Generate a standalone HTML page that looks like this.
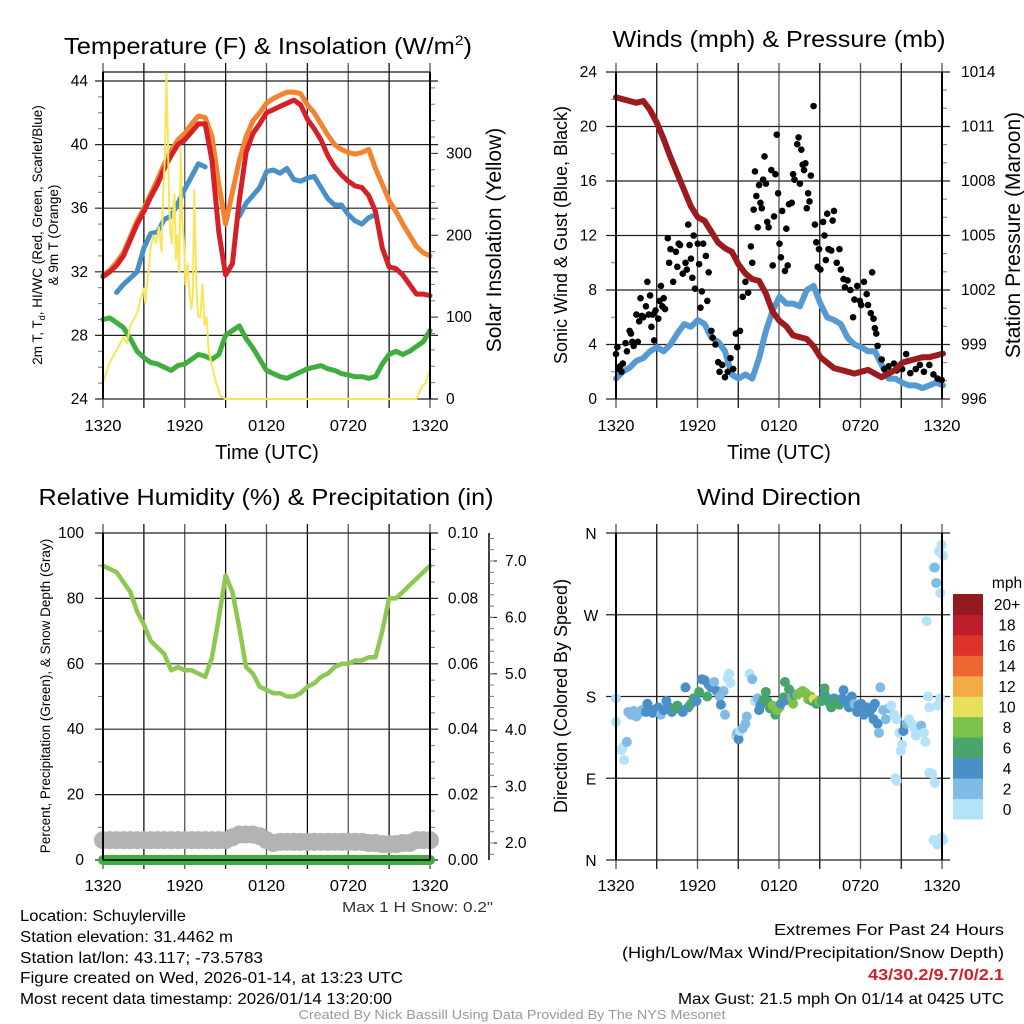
<!DOCTYPE html>
<html><head><meta charset="utf-8"><style>
html,body{margin:0;padding:0;background:#fff;}
svg{display:block;font-family:"Liberation Sans",sans-serif;}
</style></head><body>
<svg id="fig" width="1024" height="1024" viewBox="0 0 1024 1024">
<text x="268" y="54" font-size="23" text-anchor="middle" textLength="408" lengthAdjust="spacingAndGlyphs">Temperature (F) &amp; Insolation (W/m<tspan font-size="14" dy="-9">2</tspan><tspan dy="9">)</tspan></text>
<text x="779" y="47" font-size="23" text-anchor="middle" textLength="333" lengthAdjust="spacingAndGlyphs">Winds (mph) &amp; Pressure (mb)</text>
<text x="266" y="505" font-size="23" text-anchor="middle" textLength="455" lengthAdjust="spacingAndGlyphs">Relative Humidity (%) &amp; Precipitation (in)</text>
<text x="779" y="505" font-size="23" text-anchor="middle" textLength="164" lengthAdjust="spacingAndGlyphs">Wind Direction</text>
<g id="g"></g>
<g font-size="15.5">
<text x="20" y="921" textLength="166" lengthAdjust="spacingAndGlyphs">Location: Schuylerville</text>
<text x="20" y="942" textLength="213" lengthAdjust="spacingAndGlyphs">Station elevation: 31.4462 m</text>
<text x="20" y="963" textLength="243" lengthAdjust="spacingAndGlyphs">Station lat/lon: 43.117; -73.5783</text>
<text x="20" y="983" textLength="383" lengthAdjust="spacingAndGlyphs">Figure created on Wed, 2026-01-14, at 13:23 UTC</text>
<text x="20" y="1004" textLength="372" lengthAdjust="spacingAndGlyphs">Most recent data timestamp: 2026/01/14 13:20:00</text>
</g>
<g font-size="15.5" text-anchor="end">
<text x="1004" y="935" textLength="230" lengthAdjust="spacingAndGlyphs">Extremes For Past 24 Hours</text>
<text x="1004" y="958" textLength="382" lengthAdjust="spacingAndGlyphs">(High/Low/Max Wind/Precipitation/Snow Depth)</text>
<text x="1004" y="980" fill="#d0202a" font-weight="bold" textLength="136" lengthAdjust="spacingAndGlyphs">43/30.2/9.7/0/2.1</text>
<text x="1004" y="1004" textLength="326" lengthAdjust="spacingAndGlyphs">Max Gust: 21.5 mph On 01/14 at 0425 UTC</text>
</g>
<text x="493" y="912" font-size="15" text-anchor="end" fill="#333" textLength="151" lengthAdjust="spacingAndGlyphs">Max 1 H Snow: 0.2"</text>
<text x="512" y="1019" font-size="12.5" text-anchor="middle" fill="#999" textLength="427" lengthAdjust="spacingAndGlyphs">Created By Nick Bassill Using Data Provided By The NYS Mesonet</text>
</svg>
<script>
// ---- data (half-hour steps, hours since 1320 UTC) ----
const hours = [0,0.5,1,1.5,2,2.5,3,3.5,4,4.5,5,5.5,6,6.5,7,7.5,8,8.5,9,9.5,10,10.5,11,11.5,12,12.5,13,13.5,14,14.5,15,15.5,16,16.5,17,17.5,18,18.5,19,19.5,20,20.5,21,21.5,22,22.5,23,23.5,24];
const timeTicks = ["1320","1920","0120","0720","1320"];
const temp2m = [31.7,32.0,32.4,33.0,34.0,35.0,35.8,36.7,37.5,38.5,39.3,40.0,40.3,40.8,41.3,41.3,39.0,34.5,31.8,32.5,36.5,39.5,40.7,41.3,42.0,42.2,42.4,42.6,42.8,42.5,41.6,41.0,40.3,39.3,38.6,38.1,37.7,37.4,37.3,36.8,35.8,33.5,32.3,32.2,31.8,31.2,30.6,30.6,30.5];
const temp9m = [31.8,32.1,32.6,33.2,34.2,35.2,36.0,36.9,37.8,38.8,39.6,40.3,40.7,41.3,41.8,41.7,40.5,37.5,35.0,37.0,39.0,40.5,41.5,42.0,42.6,42.9,43.1,43.3,43.3,43.2,42.5,42.0,41.3,40.6,40.0,39.7,39.5,39.4,39.5,39.7,38.5,37.5,36.5,35.8,35.0,34.3,33.6,33.2,33.0];
const windChill = [null,null,30.7,31.2,31.6,32.0,33.5,34.4,34.5,35.3,35.5,36.3,37.2,38.0,38.8,38.6,null,null,30.6,null,35.5,36.3,36.8,37.3,38.3,38.4,38.2,38.5,37.8,37.7,37.9,38.0,37.3,36.6,36.2,36.2,35.6,35.2,35.0,35.4,35.6,null,null,null,null,null,null,null,null];
const dewpoint = [29.0,29.1,28.8,28.5,27.8,27.0,26.6,26.3,26.2,26.0,25.8,26.1,26.2,26.5,26.8,26.7,26.5,26.8,28.0,28.3,28.6,27.8,27.2,26.5,25.8,25.6,25.4,25.3,25.5,25.7,25.9,26.0,26.1,25.9,25.8,25.6,25.5,25.4,25.4,25.3,25.4,26.2,26.8,27.0,26.8,27.0,27.3,27.6,28.3];
const insoHours = [0,0.5,1,1.5,1.75,2,2.5,2.8,3,3.1,3.3,3.5,3.7,3.9,4.1,4.3,4.4,4.55,4.65,4.75,4.85,4.95,5.05,5.15,5.25,5.35,5.45,5.6,5.7,5.8,5.95,6.05,6.2,6.35,6.5,6.6,6.7,6.8,6.9,7,7.15,7.3,7.45,7.6,7.75,8,8.3,8.6,9,23,23.4,23.7,24];
const insolation = [20,45,60,75,68,90,105,125,135,117,150,185,200,190,210,180,240,300,398,330,240,200,190,230,250,170,200,155,305,220,190,140,165,130,110,130,255,180,120,100,100,140,90,100,60,40,20,4,0,0,15,20,35];
const windSpeed = [1.5,2.0,2.3,2.8,3.0,3.5,3.8,3.5,4.0,4.8,5.5,5.3,5.8,5.5,4.5,4.2,3.5,1.8,1.5,1.8,1.5,3.0,5.0,6.5,7.5,7.0,7.0,6.8,8.0,8.3,7.0,6.0,5.8,5.5,4.5,4.0,3.8,3.5,3.5,2.5,1.5,1.5,1.2,1.0,1.0,0.8,1.0,1.2,1.0];
const pressure = [1012.6,1012.5,1012.4,1012.3,1012.4,1011.9,1011.2,1010.3,1009.3,1008.4,1007.5,1006.6,1006.0,1005.8,1005.2,1004.6,1004.3,1004.1,1003.4,1002.9,1002.6,1002.5,1001.8,1000.8,1000.3,1000.0,999.5,999.4,999.3,998.9,998.3,998.0,997.7,997.6,997.5,997.4,997.5,997.6,997.4,997.2,997.4,997.6,998.0,998.1,998.2,998.3,998.3,998.4,998.5];
const gustHours = [0,0.1,0.2,0.3,0.4,0.5,0.7,0.8,1.0,1.1,1.2,1.3,1.5,1.6,1.7,1.8,1.9,2.0,2.2,2.3,2.4,2.5,2.6,2.7,2.8,2.9,3.1,3.2,3.3,3.4,3.5,3.6,3.8,3.9,4.0,4.2,4.4,4.5,4.6,4.7,4.9,5.1,5.2,5.3,5.4,5.5,5.6,5.7,5.8,6.0,6.1,6.2,6.3,6.4,6.6,6.7,6.8,7.0,7.1,7.3,7.5,7.6,7.8,8.0,8.2,8.4,8.6,8.8,8.9,9.1,9.3,9.5,9.7,9.9,10.0,10.1,10.2,10.3,10.4,10.5,10.6,10.7,10.8,10.9,11.0,11.1,11.2,11.4,11.5,11.6,11.7,11.8,11.9,12.0,12.1,12.2,12.4,12.5,12.6,12.7,12.9,13.0,13.1,13.3,13.4,13.5,13.6,13.7,13.8,13.9,14.0,14.1,14.2,14.3,14.5,14.6,14.7,14.8,14.9,15.0,15.2,15.3,15.4,15.5,15.6,15.8,15.9,16.0,16.2,16.4,16.5,16.7,16.8,17.0,17.2,17.4,17.5,17.7,17.9,18.0,18.2,18.4,18.5,18.7,18.8,18.9,19.0,19.1,19.2,19.5,19.7,20.0,20.2,20.4,20.6,21.0,21.3,21.6,22.0,22.3,22.6,23.0,23.3,23.6,23.9];
const gusts = [3.3,3.8,2.2,2.4,2.0,2.6,4.1,3.5,5.0,4.8,4.2,3.9,6.2,4.2,5.7,7.4,6.1,6.0,6.8,8.6,6.2,7.6,5.3,6.2,4.3,6.5,5.9,7.2,8.3,6.8,7.4,6.6,11.8,10.0,11.0,8.6,10.8,9.7,11.4,11.3,9.2,10.0,9.5,12.8,11.3,10.3,8.9,12.0,8.1,11.4,9.9,6.7,7.9,11.4,10.5,7.2,9.3,5.0,4.5,4.0,2.7,2.0,2.5,1.6,2.0,3.0,2.2,4.8,3.8,5.0,7.5,8.6,7.8,11.2,10.0,13.9,16.7,14.9,12.6,15.7,14.4,14.0,16.1,17.8,15.8,13.0,12.6,16.8,9.8,13.4,16.5,19.4,15.1,11.4,10.4,13.8,9.4,12.5,9.8,14.3,14.4,16.5,16.1,18.7,19.2,15.8,18.3,17.2,16.8,17.3,14.0,15.1,14.5,16.4,21.5,12.8,11.5,9.7,11.0,9.5,13.0,12.0,10.2,13.6,11.0,10.9,13.1,13.8,10.0,11.0,9.5,8.8,8.2,8.7,8.0,6.0,7.3,8.3,7.2,6.9,8.6,7.7,6.9,6.3,9.3,5.9,5.2,4.8,3.9,2.9,2.2,2.4,2.0,2.6,2.1,2.2,3.3,1.9,2.2,2.5,2.0,2.5,1.8,1.5,1.4];
const relHumidity = [90,89,88,85,82,76,72,67,65,63,58,59,58,58,57,56,62,74,87,82,71,59,57,53,52,51,51,50,50,51,53,54,56,57,59,60,60,61,61,62,62,70,80,80,82,84,86,88,90];
const snowDepth = [2.05,2.05,2.05,2.05,2.05,2.05,2.05,2.05,2.05,2.05,2.05,2.05,2.05,2.05,2.05,2.05,2.05,2.05,2.05,2.1,2.15,2.15,2.15,2.12,2.05,2.0,2.02,2.02,2.02,2.02,2.02,2.02,2.02,2.02,2.02,2.02,2.02,2.02,2.02,2.0,2.0,1.98,1.98,1.98,2.0,2.0,2.05,2.05,2.05];
const precip = [0,0,0,0,0,0,0,0,0,0,0,0,0,0,0,0,0,0,0,0,0,0,0,0,0,0,0,0,0,0,0,0,0,0,0,0,0,0,0,0,0,0,0,0,0,0,0,0,0];
const dirHours = [0,0,0.4,0.5,0.6,0.8,0.9,1.1,1.3,1.5,1.7,1.9,2.2,2.3,2.5,2.7,2.9,3.1,3.3,3.5,3.7,3.9,4.1,4.3,4.5,4.7,4.9,5.1,5.3,5.5,5.7,5.9,6.1,6.3,6.5,6.7,6.8,7.0,7.2,7.4,7.6,7.7,7.9,8.0,8.2,8.3,8.4,8.8,8.9,9.0,9.1,9.3,9.5,9.6,9.8,10.0,10.2,10.4,10.5,10.6,10.8,11.0,11.1,11.3,11.5,11.7,11.8,12.0,12.1,12.3,12.4,12.5,12.7,12.9,13.0,13.1,13.3,13.5,13.7,13.9,14.1,14.3,14.4,14.5,14.7,14.9,15.1,15.3,15.3,15.5,15.7,15.8,16.0,16.2,16.4,16.6,16.7,16.9,17.1,17.3,17.5,17.7,17.8,18.0,18.2,18.4,18.6,18.8,18.9,19.0,19.2,19.3,19.4,19.6,19.8,20.0,20.2,20.4,20.6,20.8,20.9,21.0,21.1,21.3,21.5,21.7,21.9,22.0,22.2,22.4,22.6,22.7,22.9,23.0,23.2,23.4,23.6,23.8,23.0,22.8,23.3,23.4,23.5,23.7,23.9,24.0,23.8,23.3,23.6,24.0,23.9,20.6,20.5];
const dirDegrees = [178,152,121,124,110,130,163,160,164,158,162,165,163,172,165,162,166,168,160,165,175,168,163,167,170,166,163,190,168,172,178,175,185,199,198,180,193,190,196,186,180,171,186,160,200,205,195,137,140,133,142,145,150,158,205,199,175,178,165,170,176,185,175,167,170,160,165,168,172,179,196,176,188,178,172,182,182,184,186,184,177,180,175,177,172,175,175,183,189,178,172,168,178,175,171,178,187,175,168,180,172,163,170,172,160,168,163,167,155,172,150,140,190,165,155,167,170,160,155,140,120,127,142,150,155,150,145,137,142,148,140,130,180,168,95,85,170,178,96,263,322,322,305,340,347,335,294,22,17,22,25,87,90];
const dirSpeeds = [1,1.5,1,1,0.5,2.5,3,3,3,3,3,3,5,5,5,5,5,5,3,5,5,5,5,6.5,6.5,7,5,5,5,7,6.5,5,7,5,5,7,5,5,3,5,3,5,3,3,1,1,1,1,2,5,1,2,2,3,1,2,1,3,5,5,6.5,7,7,6.5,8.5,7,9,8.5,5,7,7,5,7,8.5,9,5,9,9,9,9,9,9,7,11,7,9,7,5,7,7,7,7,5,7,7,5,5,5,5,5,3,5,5,5,5,5,5,5,5,5,5,3,3,3,3,3,1,1,1,1,1,1,5,3,1,1,1,1,1,3,1,1,1,1,1,1,1,1,1,1,1,3,3,1,1,1,1,1,1,1,1,1,1,1];
const speedBins = ["0","2","4","6","8","10","12","14","16","18","20+"];
const speedColors = ["#b4e2f8","#7fbbe4","#4a8fc7","#49a56e","#7bc24a","#e6e05a","#f5aa48","#ee6631","#dc3329","#be1e2a","#931a1e"];

// ---- helpers ----
const NS="http://www.w3.org/2000/svg";
const root=document.getElementById('g');
function el(tag,attrs,parent){const e=document.createElementNS(NS,tag);for(const k in attrs)e.setAttribute(k,attrs[k]);(parent||root).appendChild(e);return e;}
function txt(x,y,s,size,anchor,parent,extra){const t=el('text',Object.assign({x:x,y:y,'font-size':size,'text-anchor':anchor||'middle'},extra||{}),parent);t.textContent=s;return t;}
function pathFrom(xs,ys,xf,yf){let d='',pen=false;for(let i=0;i<xs.length;i++){if(ys[i]===null){pen=false;continue;}d+=(pen?'L':'M')+xf(xs[i]).toFixed(1)+','+yf(ys[i]).toFixed(1);pen=true;}return d;}

function timeAxis(x0,x1,y0,y1,labelY,g){
  for(let i=0;i<=8;i++){const x=x0+(x1-x0)*i/8;
    const l=el('line',{x1:x,x2:x,y1:y0-9,y2:y1+9,stroke:(i%2?'#111':'#555'),'stroke-width':1.3},g);
    
    
    if(i%2===0){const t=txt(x,labelY,timeTicks[i/2],15.5,'middle',g,{textLength:37,lengthAdjust:'spacingAndGlyphs'});
      
      }
  }
}
function hGrid(x0,x1,y,g,ext){const l=el('line',{x1:x0-(ext||8),x2:x1+8,y1:y,y2:y,stroke:'#222','stroke-width':1.2},g);
  
  }
function minorTicks(x,ys,dir,g){ys.forEach(y=>{el('line',{x1:x,x2:x+dir*5,y1:y,y2:y,stroke:'#777','stroke-width':1},g);});}

// ===== Panel 1: Temperature =====
const p1=el('g',{});
const X1=t=>103+t*13.625, YT=v=>399-(v-24)*15.9, YI=v=>399-v*0.8187;
timeAxis(103,430,72,399,431,p1);
for(let v=24;v<=44;v+=4){hGrid(103,430,YT(v),p1);const t=txt(88,YT(v)+5,String(v),15.5,'end',p1);}
{const m=[];for(let v=25;v<=44;v++)if(v%4)m.push(YT(v));minorTicks(103,m,-1,p1);}
el('line',{x1:103,x2:430,y1:72,y2:72,stroke:'#111','stroke-width':1.3},p1);
for(let v=0;v<=300;v+=100){el('line',{x1:430,x2:438,y1:YI(v),y2:YI(v),stroke:'#222'},p1);const t=txt(446,YI(v)+5,String(v),15.5,'start',p1);}
{const m=[];for(let v=20;v<=390;v+=20)if(v%100)m.push(YI(v));minorTicks(430,m,1,p1);}
const yl1=txt(0,0,'',13.5,'middle',p1,{transform:'translate(42,235) rotate(-90)'});
yl1.innerHTML='2m T, T<tspan font-size="9" dy="3">d</tspan><tspan dy="-3">, HI/WC (Red, Green, Scarlet/Blue)</tspan>';

const yl1b=txt(0,0,'& 9m T (Orange)',13.5,'middle',p1,{transform:'translate(58,235) rotate(-90)'});

const yr1=txt(0,0,'Solar Insolation (Yellow)',21,'middle',p1,{transform:'translate(501,240) rotate(-90)'});

const xt1=txt(267,459,'Time (UTC)',20,'middle',p1);
const cl1=el('clipPath',{id:'c1'},p1);el('rect',{x:98,y:60,width:338,height:344},cl1);
const s1=el('g',{'clip-path':'url(#c1)',fill:'none','stroke-linejoin':'round','stroke-linecap':'round'},p1);
const pw=el('path',{d:pathFrom(hours,dewpoint,X1,YT),stroke:'#3fae3c','stroke-width':5},s1);
const po=el('path',{d:pathFrom(hours,temp9m,X1,YT),stroke:'#f28330','stroke-width':5},s1);
const pb=el('path',{d:pathFrom(hours,windChill,X1,YT),stroke:'#4a90c8','stroke-width':5},s1);
const pr=el('path',{d:pathFrom(hours,temp2m,X1,YT),stroke:'#d42027','stroke-width':5},s1);
const py=el('path',{d:pathFrom(insoHours,insolation,X1,YI),stroke:'#f8e55a','stroke-width':2},s1);
el('line',{x1:103,x2:103,y1:72,y2:399,stroke:'#000','stroke-width':2},p1);
el('line',{x1:430,x2:430,y1:72,y2:399,stroke:'#000','stroke-width':2},p1);

// ===== Panel 2: Winds =====
const p2=el('g',{});
const X2=t=>616+t*13.625, YW=v=>399-v*13.625, YP=v=>399-(v-996)*18.17;
timeAxis(616,942,72,399,431,p2);
for(let v=0;v<=24;v+=4){hGrid(616,942,YW(v),p2,10);const t=txt(597,YW(v)+5,String(v),15.5,'end',p2);}
{const m=[];for(let v=2;v<24;v+=4)m.push(YW(v));minorTicks(616,m,-1,p2);}
for(let v=996;v<=1014;v+=3){const t=txt(961,YP(v)+5,String(v),15.5,'start',p2);}
{const m=[];for(let v=997;v<1014;v++)if((v-996)%3)m.push(YP(v));minorTicks(942,m,1,p2);}
const yl2=txt(0,0,'Sonic Wind & Gust (Blue, Black)',18,'middle',p2,{transform:'translate(567,235) rotate(-90)'});

const yr2=txt(0,0,'Station Pressure (Maroon)',21,'middle',p2,{transform:'translate(1020,235) rotate(-90)'});

const xt2=txt(779,459,'Time (UTC)',20,'middle',p2);
const cl2=el('clipPath',{id:'c2'},p2);el('rect',{x:612,y:60,width:334,height:344},cl2);
const s2=el('g',{'clip-path':'url(#c2)','stroke-linejoin':'round','stroke-linecap':'round'},p2);
const pws=el('path',{d:pathFrom(hours,windSpeed,X2,YW),stroke:'#559ad3','stroke-width':6,fill:'none'},s2);
gustHours.forEach((t,i)=>{const c=el('circle',{cx:X2(t),cy:YW(gusts[i]),r:3.3,fill:'#000'},s2);
  
  });
const pp=el('path',{d:pathFrom(hours,pressure,X2,YP),stroke:'#9b1b1e','stroke-width':6,fill:'none'},s2);
el('line',{x1:616,x2:616,y1:72,y2:399,stroke:'#000','stroke-width':2},p2);
el('line',{x1:942,x2:942,y1:72,y2:399,stroke:'#000','stroke-width':2},p2);

// ===== Panel 3: Humidity =====
const p3=el('g',{});
const X3=X1, YR=v=>860-v*3.27, YS=v=>843-(v-2)*56.4;
timeAxis(103,430,533,860,891,p3);
for(let v=0;v<=100;v+=20){hGrid(103,430,YR(v),p3);const t=txt(84,YR(v)+5,String(v),15.5,'end',p3);
  const r=txt(463,YR(v)+5,(v/1000).toFixed(2),15.5,'middle',p3);}
{const m=[];for(let v=10;v<100;v+=20)m.push(YR(v));minorTicks(103,m,-1,p3);const m2=[];for(let v=5;v<100;v+=5)if(v%20)m2.push(YR(v));minorTicks(430,m2,1,p3);}
el('line',{x1:489,x2:489,y1:533,y2:860,stroke:'#000','stroke-width':1.5},p3);
for(let v=2;v<=7;v++){el('line',{x1:489,x2:497,y1:YS(v),y2:YS(v),stroke:'#000'},p3);const t=txt(505,YS(v)+5,v.toFixed(1),15.5,'start',p3);}
{const m=[];for(let v=1.8;v<7.5;v+=0.2)m.push(YS(v));minorTicks(489,m,1,p3);}
const yl3=txt(0,0,'Percent, Precipitation (Green), & Snow Depth (Gray)',13.5,'middle',p3,{transform:'translate(50,696) rotate(-90)'});

const s3=el('g',{'stroke-linejoin':'round','stroke-linecap':'round'},p3);
hours.forEach((t,i)=>{const c=el('circle',{cx:X3(t),cy:YS(snowDepth[i]),r:9,fill:'#b3b3b3'},s3);
  
  });
const prh=el('path',{d:pathFrom(hours,relHumidity,X3,YR),stroke:'#8dc853','stroke-width':4.5,fill:'none'},s3);
const ppc=el('path',{d:pathFrom(hours,precip.map(v=>v*1000),X3,YR),stroke:'#3fae3c','stroke-width':10,fill:'none'},s3);
el('line',{x1:103,x2:103,y1:533,y2:860,stroke:'#000','stroke-width':2},p3);
el('line',{x1:430,x2:430,y1:533,y2:860,stroke:'#000','stroke-width':2},p3);
el('line',{x1:103,x2:430,y1:860,y2:860,stroke:'#000','stroke-width':1.5},p3);

// ===== Panel 4: Wind direction =====
const p4=el('g',{});
const X4=X2, YD=v=>860-v*327/360;
timeAxis(616,942,533,860,891,p4);
const dirLabels=['N','E','S','W','N'];
dirLabels.forEach((s,i)=>{hGrid(616,942,YD(i*90),p4,10);const t=txt(591,YD(i*90)+6,s,15.5,'middle',p4);});
const yl4=txt(0,0,'Direction (Colored By Speed)',18,'middle',p4,{transform:'translate(567,696) rotate(-90)'});

const cl4=el('clipPath',{id:'c4'},p4);el('rect',{x:610,y:526,width:340,height:340},cl4);
const s4=el('g',{'clip-path':'url(#c4)'},p4);
dirHours.forEach((t,i)=>{const b=Math.min(10,Math.floor(dirSpeeds[i]/2));
  const c=el('circle',{cx:X4(t),cy:YD(dirDegrees[i]),r:5,fill:speedColors[b]},s4);
  
  });
el('line',{x1:616,x2:616,y1:533,y2:860,stroke:'#000','stroke-width':2},p4);
el('line',{x1:942,x2:942,y1:533,y2:860,stroke:'#000','stroke-width':2},p4);
const cb=el('g',{},p4);
const mph=txt(1007,588,'mph',15.5,'middle',cb);
speedBins.forEach((s,i)=>{const h=225/speedBins.length;const y=819-(i+1)*h;
  const r=el('rect',{x:953,y:y,width:30,height:h+0.5,fill:speedColors[i]},cb);
  
  
  const t=txt(1007,y+h/2+6,s,15.5,'middle',cb);
  
  });
</script>
</body></html>
